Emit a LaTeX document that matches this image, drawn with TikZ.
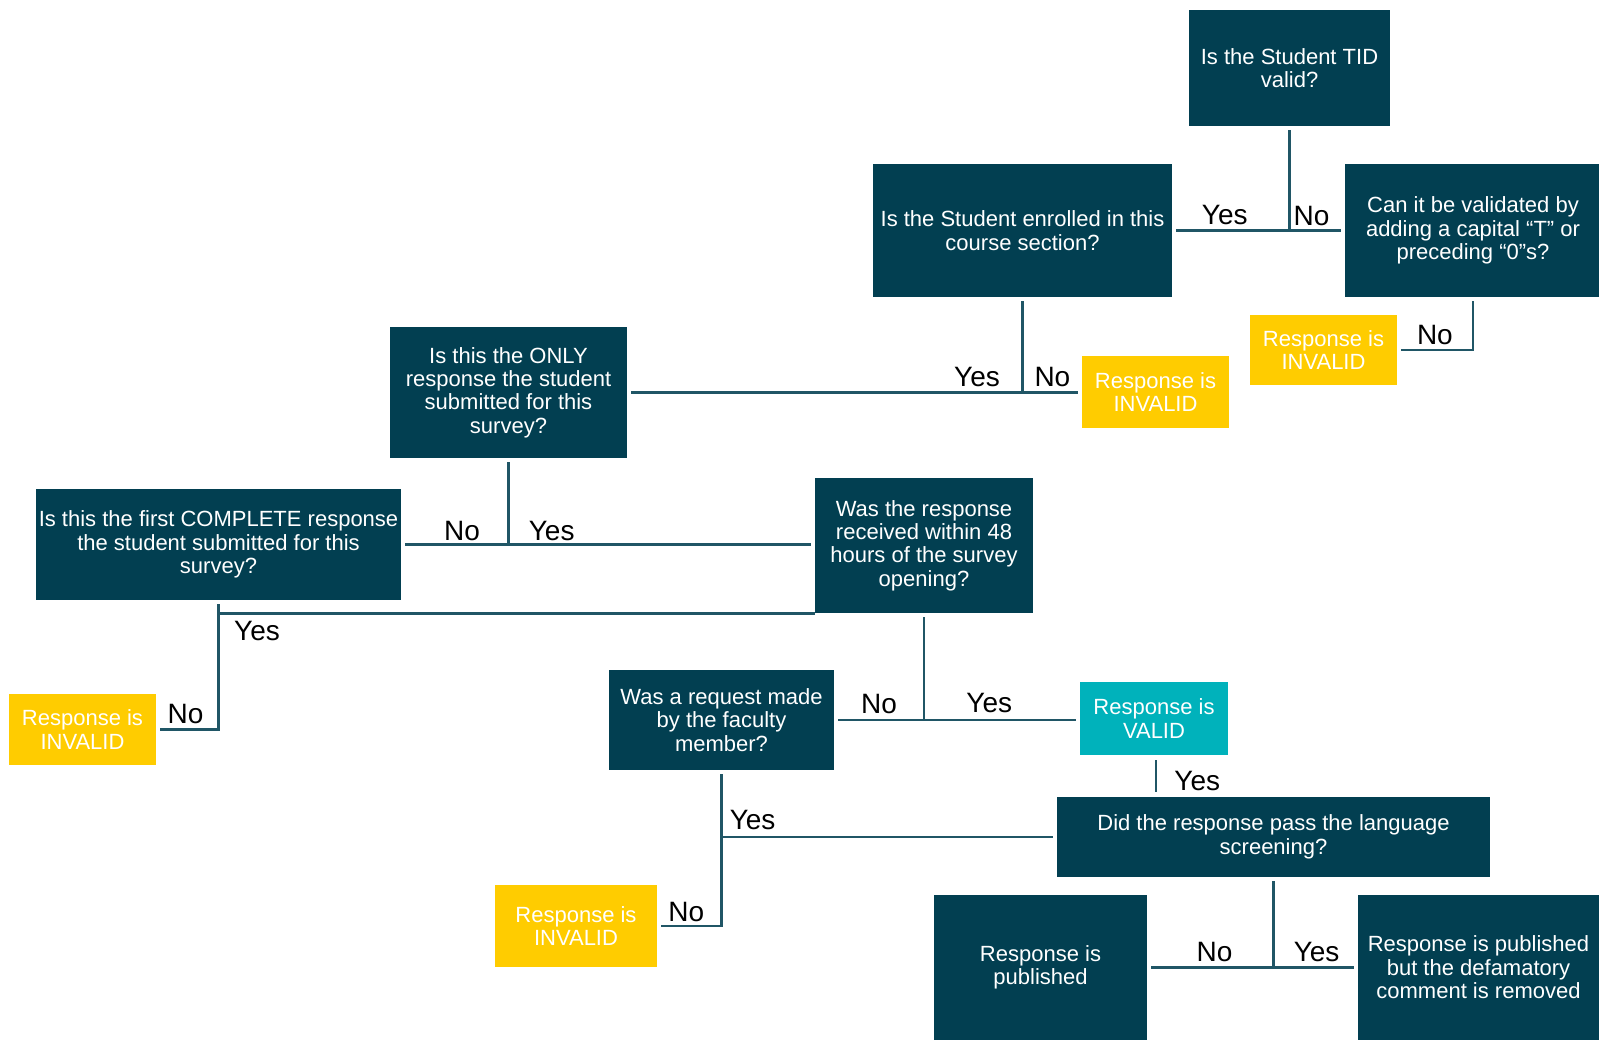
\documentclass[tikz,border=0pt]{standalone}
\usepackage{fontspec}
\setmainfont{Liberation Sans}
\usepackage{xcolor}
\definecolor{colorQuestion}{HTML}{023F51}
\definecolor{colorInvalid}{HTML}{FFCC00}
\definecolor{colorValid}{HTML}{00B2BB}
\colorlet{colorLink}{colorQuestion!88!white}
\usepackage{tikz}
\usetikzlibrary{positioning}
\tikzset{
  box/.style={fill=colorQuestion, text=white, inner sep=0pt, align=center, font=\fontsize{11}{11.7}\selectfont},
  invalid/.style={box, fill=colorInvalid},
  valid/.style={box, fill=colorValid},
  answer/.style={inner sep=0pt, font=\fontsize{14}{14}\selectfont},
  link/.style={colorLink, line width=1.2pt}
}

\begin{document}
\begin{tikzpicture}[x=0.5pt, y=-0.5pt]
\useasboundingbox (0,0) rectangle (1599,1047);
\node[box, minimum width=100.5pt, minimum height=58pt] (q1) at (1289.5,68) {Is the Student TID\\valid?};
\node[box, minimum width=149.5pt, minimum height=66.5pt] (q2) at (1022.5,230.5) {Is the Student enrolled in this\\course section?};
\node[box, minimum width=128pt, minimum height=66.5pt] (q3) at (1473,230.5) {Can it be validated by\\adding a capital “T” or\\preceding “0”s?};
\node[invalid, minimum width=73.5pt, minimum height=35pt] (q4) at (1323.5,350) {Response is\\INVALID};
\node[invalid, minimum width=73.5pt, minimum height=36pt] (q5) at (1155.5,392) {Response is\\INVALID};
\node[box, minimum width=118.5pt, minimum height=65.5pt] (q6) at (508.5,392.5) {Is this the ONLY\\response the student\\submitted for this\\survey?};
\node[box, minimum width=182.5pt, minimum height=55.5pt] (q7) at (218.5,544.5) {Is this the first COMPLETE response\\the student submitted for this\\survey?};
\node[box, minimum width=109pt, minimum height=67.5pt] (q8) at (924,545.5) {Was the response\\received within 48\\hours of the survey\\opening?};
\node[invalid, minimum width=73.5pt, minimum height=35.5pt] (q9) at (82.5,729.5) {Response is\\INVALID};
\node[box, minimum width=112.5pt, minimum height=50pt] (q10) at (721.5,720) {Was a request made\\by the faculty\\member?};
\node[valid, minimum width=74pt, minimum height=36.5pt] (q11) at (1154,718.5) {Response is\\VALID};
\node[box, minimum width=216.5pt, minimum height=40pt] (q12) at (1273.5,837) {Did the response pass the language\\screening?};
\node[invalid, minimum width=81pt, minimum height=41pt] (q13) at (576,926) {Response is\\INVALID};
\node[box, minimum width=106.5pt, minimum height=72.5pt] (q14) at (1040.5,967.5) {Response is\\published};
\node[box, minimum width=120.5pt, minimum height=72.5pt] (q15) at (1478.5,967.5) {Response is published\\but the defamatory\\comment is removed};
\draw[link, shorten <=2pt] (q1.south) -- (q1.south |- q2.east);
\draw[link, shorten <=2pt, shorten >=2pt] (q2.east) -- (q3.west);
\draw[link, shorten <=2pt, shorten >=2pt] (q3.south) |- (q4.east);
\draw[link, shorten <=2pt] (q2.south) -- (q2.south |- q6.east);
\draw[link, shorten <=2pt, shorten >=2pt] (q6.east) -- (q6.east -| q5.west);
\draw[link, shorten <=2pt] (q6.south) -- (q6.south |- q7.east);
\draw[link, shorten <=2pt, shorten >=2pt] (q7.east) -- (q7.east -| q8.west);
\draw[link, shorten <=2pt, shorten >=2pt] (q7.south) |- (q9.east);
\draw[link] (q7.south |- q8.south west) -- (q8.south west);
\draw[link, shorten <=2pt] (q8.south) -- (q8.south |- q10.east);
\draw[link, shorten <=2pt, shorten >=2pt] (q10.east) -- (q10.east -| q11.west);
\draw[link, shorten <=2.5pt, shorten >=2.5pt] ([xshift=1pt]q11.south) -- ([xshift=1pt]q11.south |- q12.north);
\draw[link, shorten <=2pt, shorten >=2pt] (q10.south) |- (q13.east);
\draw[link, shorten >=2pt] (q10.south |- q12.west) -- (q12.west);
\draw[link, shorten <=2pt] (q12.south) -- (q12.south |- q14.east);
\draw[link, shorten <=2pt, shorten >=2pt] (q14.east) -- (q14.east -| q15.west);
\node[answer] (y1) at (1224.8,215.2) {Yes};
\node[answer] (n1) at (1311.5,216) {No};
\node[answer] (n2) at (1434.9,335.5) {No};
\node[answer] (y2) at (977,377.3) {Yes};
\node[answer] (n3) at (1052.4,377.3) {No};
\node[answer] (n4) at (462,531.3) {No};
\node[answer] (y3) at (551.7,531.3) {Yes};
\node[answer] (y4) at (257,631.3) {Yes};
\node[answer] (n5) at (185.6,713.9) {No};
\node[answer] (n6) at (879,703.7) {No};
\node[answer] (y5) at (989.2,702.6) {Yes};
\node[answer] (y6) at (1197.2,781.2) {Yes};
\node[answer] (y7) at (752.6,819.9) {Yes};
\node[answer] (n7) at (686.3,911.7) {No};
\node[answer] (n8) at (1214.6,951.5) {No};
\node[answer] (y8) at (1316.6,951.5) {Yes};
\end{tikzpicture}
\end{document}
